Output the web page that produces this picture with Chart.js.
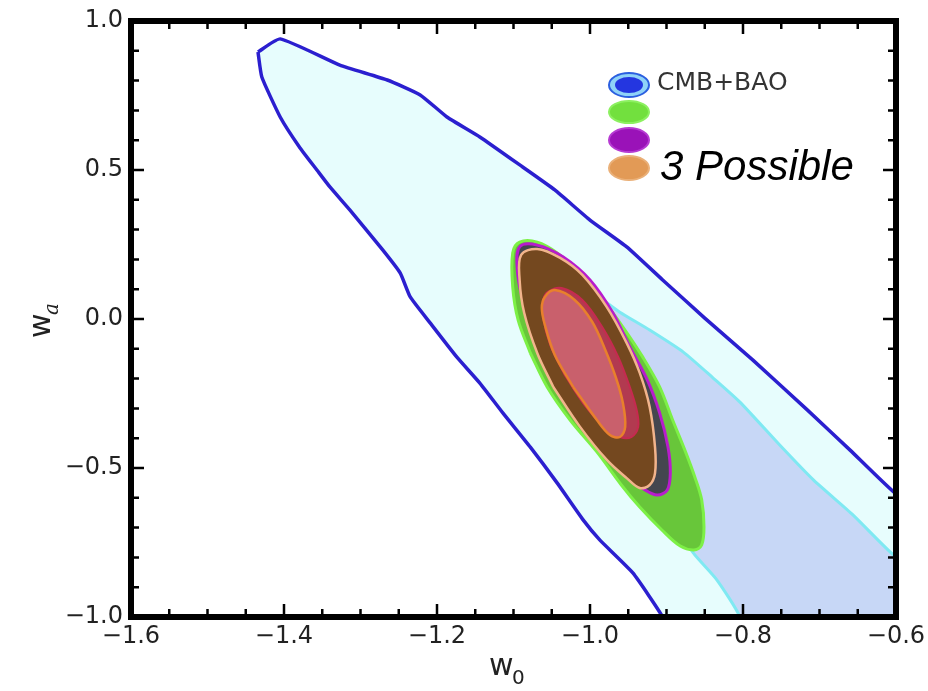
<!DOCTYPE html>
<html>
<head>
<meta charset="utf-8">
<script src="https://cdn.jsdelivr.net/npm/chart.js@4.4.1/dist/chart.umd.min.js"></script>
<style>
  html, body { margin: 0; padding: 0; background: #fff; }
  #wrap { width: 928px; height: 691px; }
</style>
</head>
<body>
<div id="wrap"><canvas id="contourChart" width="928" height="691"></canvas></div>
<script>
// axis ticks
const xTicks = [-1.6, -1.4, -1.2, -1.0, -0.8, -0.6];
const yTicks = [-1.0, -0.5, 0.0, 0.5, 1.0];

// contour outlines as [w0, wa] pairs, outermost first
const outerContour = [
  [-1.434, 0.896], [-1.405, 0.940], [-1.327, 0.852], [-1.265, 0.802], [-1.222, 0.752],
  [-1.187, 0.678], [-1.144, 0.611], [-1.088, 0.510], [-1.046, 0.433], [-1.000, 0.332],
  [-0.952, 0.242], [-0.905, 0.131], [-0.850, 0.003], [-0.787, -0.138], [-0.716, -0.305],
  [-0.660, -0.440], [-0.600, -0.587], [-0.550, -0.660], [-0.550, -1.150], [-0.880, -1.150],
  [-0.905, -1.000], [-0.944, -0.852], [-0.987, -0.742], [-1.009, -0.674], [-1.043, -0.550],
  [-1.078, -0.430], [-1.114, -0.315], [-1.144, -0.215], [-1.174, -0.128], [-1.209, -0.013],
  [-1.235, 0.074], [-1.248, 0.154], [-1.271, 0.232], [-1.314, 0.366], [-1.340, 0.443],
  [-1.357, 0.500], [-1.379, 0.574], [-1.405, 0.678], [-1.429, 0.812], [-1.434, 0.896]
];
const innerCmbContour = [
  [-0.983, 0.064], [-0.961, 0.023], [-0.922, -0.037], [-0.878, -0.111], [-0.839, -0.198],
  [-0.804, -0.279], [-0.752, -0.423], [-0.708, -0.540], [-0.656, -0.658], [-0.600, -0.799],
  [-0.550, -0.870], [-0.550, -1.150], [-0.790, -1.150], [-0.804, -1.000], [-0.834, -0.876],
  [-0.865, -0.785], [-0.909, -0.607], [-0.948, -0.406], [-0.987, -0.205], [-1.007, -0.003],
  [-0.983, 0.064]
];
const greenContour = [
  [-1.078, -0.114], [-1.056, -0.228], [-1.026, -0.339], [-0.991, -0.446], [-0.959, -0.557],
  [-0.935, -0.631], [-0.906, -0.708], [-0.882, -0.762], [-0.864, -0.775], [-0.854, -0.758],
  [-0.851, -0.698], [-0.854, -0.607], [-0.863, -0.530], [-0.876, -0.440], [-0.892, -0.339],
  [-0.909, -0.228], [-0.931, -0.128], [-0.957, -0.027], [-0.983, 0.064], [-1.013, 0.154],
  [-1.043, 0.222], [-1.069, 0.258], [-1.092, 0.258], [-1.101, 0.222], [-1.101, 0.107],
  [-1.094, -0.003], [-1.078, -0.114]
];
const purpleContour = [
  [-1.052, -0.188], [-1.072, -0.070], [-1.088, 0.064], [-1.095, 0.164], [-1.092, 0.242],
  [-1.069, 0.248], [-1.035, 0.208], [-1.000, 0.131], [-0.970, 0.020], [-0.948, -0.094],
  [-0.925, -0.205], [-0.909, -0.315], [-0.898, -0.430], [-0.895, -0.517], [-0.899, -0.574],
  [-0.912, -0.591], [-0.928, -0.574], [-0.954, -0.523], [-0.987, -0.440], [-1.020, -0.322],
  [-1.052, -0.188]
];
const orangeContour = [
  [-1.048, -0.228], [-1.069, -0.114], [-1.086, 0.020], [-1.092, 0.131], [-1.090, 0.215],
  [-1.069, 0.235], [-1.039, 0.205], [-1.010, 0.148], [-0.978, 0.040], [-0.952, -0.081],
  [-0.935, -0.181], [-0.922, -0.295], [-0.915, -0.430], [-0.915, -0.517], [-0.922, -0.557],
  [-0.935, -0.567], [-0.952, -0.534], [-0.978, -0.473], [-1.013, -0.362], [-1.048, -0.228]
];
const purpleCore = [
  [-1.033, -0.188], [-1.052, -0.087], [-1.061, 0.003], [-1.061, 0.064], [-1.055, 0.091],
  [-1.037, 0.104], [-1.010, 0.064], [-0.984, -0.027], [-0.963, -0.128], [-0.948, -0.228],
  [-0.939, -0.305], [-0.937, -0.362], [-0.946, -0.396], [-0.961, -0.396], [-0.980, -0.366],
  [-1.007, -0.289], [-1.033, -0.188]
];
const orangeCore = [
  [-1.022, -0.228], [-1.046, -0.121], [-1.059, -0.020], [-1.063, 0.037], [-1.059, 0.074],
  [-1.046, 0.097], [-1.020, 0.064], [-0.997, -0.010], [-0.980, -0.104], [-0.966, -0.198],
  [-0.957, -0.282], [-0.954, -0.362], [-0.961, -0.396], [-0.974, -0.389], [-0.991, -0.339],
  [-1.022, -0.228]
];

const toPoints = pairs => pairs.map(p => ({ x: p[0], y: p[1] }));

function contour(pairs, fillColor, lineColor, width, tension) {
  return {
    data: toPoints(pairs),
    showLine: true,
    fill: 'shape',
    backgroundColor: fillColor,
    borderColor: lineColor,
    borderWidth: width,
    borderJoinStyle: 'round',
    tension: tension,
    pointRadius: 0,
    clip: 0
  };
}

// first dataset is drawn on top
const datasets = [
  contour(orangeCore, '#c9606c', '#e8802c', 2.5, 0.35),
  contour(purpleCore, '#b23a50', '#c62a50', 2, 0.35),
  contour(orangeContour, '#74481f', '#f2b48c', 2.5, 0.35),
  contour(purpleContour, '#44464f', '#b81ccc', 3, 0.35),
  contour(greenContour, '#68c63a', '#7df046', 3, 0.35),
  contour(innerCmbContour, '#c7d7f6', '#7fe9f2', 3, 0.2),
  contour(outerContour, '#e7fdfd', '#2b1fcf', 3.5, 0.15)
];

const minus = v => (v < 0 ? '\u2212' : '') + Math.abs(v).toFixed(1);

// frame, inward ticks, labels and the legend box
const framePlugin = {
  id: 'frame',
  afterDatasetsDraw(chart) {
    const { ctx, chartArea: a, scales: { x, y } } = chart;
    ctx.save();
    ctx.strokeStyle = '#000';
    ctx.lineCap = 'butt';
    ctx.lineWidth = 2.5;
    for (let i = 0; i <= 20; i++) {
      const v = -1.6 + i * 0.05;
      const px = x.getPixelForValue(v);
      const len = i % 4 === 0 ? 13 : 8;
      ctx.beginPath();
      ctx.moveTo(px, a.bottom); ctx.lineTo(px, a.bottom - len);
      ctx.moveTo(px, a.top); ctx.lineTo(px, a.top + len);
      ctx.stroke();
    }
    for (let i = 0; i <= 20; i++) {
      const v = -1.0 + i * 0.1;
      const py = y.getPixelForValue(v);
      const len = i % 5 === 0 ? 13 : 8;
      ctx.beginPath();
      ctx.moveTo(a.left, py); ctx.lineTo(a.left + len, py);
      ctx.moveTo(a.right, py); ctx.lineTo(a.right - len, py);
      ctx.stroke();
    }
    ctx.lineWidth = 6;
    ctx.lineJoin = 'miter';
    ctx.strokeRect(a.left, a.top, a.right - a.left, a.bottom - a.top);

    // tick labels
    ctx.fillStyle = '#222';
    ctx.font = '24px "DejaVu Sans"';
    ctx.textAlign = 'center';
    ctx.textBaseline = 'top';
    xTicks.forEach(v => ctx.fillText(minus(v), x.getPixelForValue(v), a.bottom + 8));
    ctx.textAlign = 'right';
    ctx.textBaseline = 'middle';
    yTicks.forEach(v => ctx.fillText(minus(v), a.left - 8, y.getPixelForValue(v)));

    // axis titles
    ctx.textAlign = 'left';
    ctx.textBaseline = 'alphabetic';
    ctx.font = '30px "DejaVu Sans"';
    ctx.fillText('w', 489, 675);
    ctx.font = '20px "DejaVu Sans"';
    ctx.fillText('0', 512, 684);

    ctx.save();
    ctx.translate(50, 338);
    ctx.rotate(-Math.PI / 2);
    ctx.font = '30px "DejaVu Sans"';
    ctx.fillText('w', 0, 0);
    ctx.font = 'italic 20px "DejaVu Serif"';
    ctx.fillText('a', 23, 8);
    ctx.restore();

    // legend markers
    const blob = (cx, cy, rx, ry, fill, edge) => {
      ctx.beginPath();
      ctx.ellipse(cx, cy, rx, ry, 0, 0, Math.PI * 2);
      ctx.fillStyle = fill;
      ctx.fill();
      if (edge) { ctx.lineWidth = 2; ctx.strokeStyle = edge; ctx.stroke(); }
    };
    blob(629, 85, 20, 12, '#8fd2f8', '#2b5fe0');
    blob(629, 85, 14, 8, '#2436e0');
    blob(629, 112, 20, 11, '#72e03e', '#8cf060');
    blob(629, 140, 20, 12, '#9a12b8', '#b63ad2');
    blob(629, 168, 20, 12, '#e29a56', '#eab078');

    ctx.fillStyle = '#333';
    ctx.font = '25px "DejaVu Sans"';
    ctx.textBaseline = 'middle';
    ctx.fillText('CMB+BAO', 657, 83);
    ctx.fillStyle = '#000';
    ctx.font = 'italic 42px "Liberation Sans"';
    ctx.textBaseline = 'alphabetic';
    ctx.fillText('3 Possible', 660, 180);
    ctx.restore();
  }
};

Chart.defaults.font.family = "'DejaVu Sans', sans-serif";

new Chart(document.getElementById('contourChart').getContext('2d'), {
  type: 'scatter',
  data: { datasets: datasets },
  plugins: [framePlugin],
  options: {
    responsive: false,
    animation: false,
    layout: { padding: { left: 131, right: 32, top: 21, bottom: 74 } },
    plugins: {
      legend: { display: false },
      tooltip: { enabled: false }
    },
    scales: {
      x: { type: 'linear', min: -1.6, max: -0.6, display: false },
      y: { type: 'linear', min: -1.0, max: 1.0, display: false }
    }
  }
});
</script>
</body>
</html>
